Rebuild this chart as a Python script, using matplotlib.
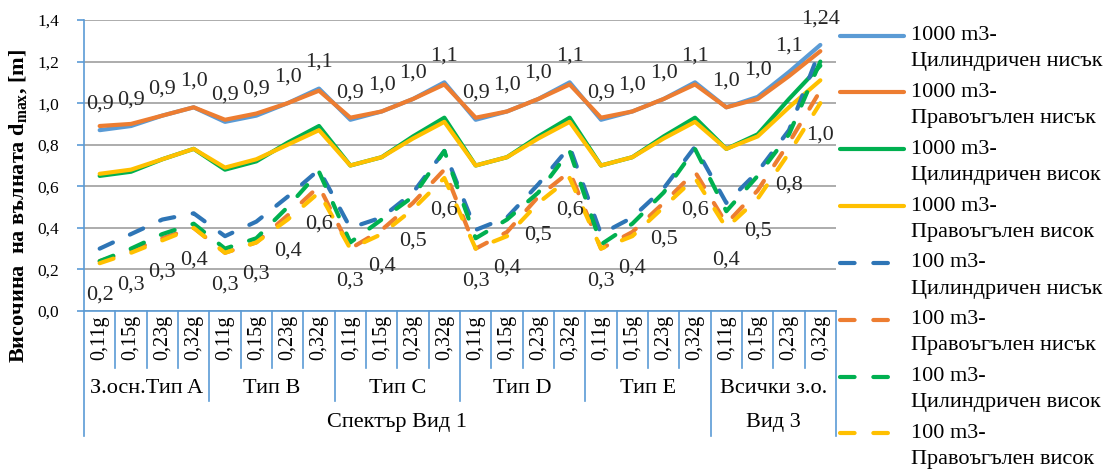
import numpy as np
import matplotlib
matplotlib.use("Agg")
import matplotlib.pyplot as plt
from matplotlib.lines import Line2D
from matplotlib.legend_handler import HandlerLine2D
from matplotlib.transforms import blended_transform_factory

plt.rcParams['font.family'] = ['Liberation Serif', 'DejaVu Serif']
plt.rcParams['mathtext.fontset'] = 'custom'
plt.rcParams['mathtext.rm'] = 'Liberation Serif'
plt.rcParams['mathtext.bf'] = 'Liberation Serif:bold'

# categories
pga = ['0,11g', '0,15g', '0,23g', '0,32g']
groups = ['З.осн.Тип A', 'Тип B', 'Тип C', 'Тип D', 'Тип E', 'Всички з.о.']
spectra = ['Спектър Вид 1', 'Вид 3']
spectra_groups = [5, 1]

# series
cyl_low_1000 = [0.87, 0.89, 0.94, 0.98, 0.91, 0.94, 1.00, 1.07, 0.92, 0.96, 1.02, 1.10,
                0.92, 0.96, 1.02, 1.10, 0.92, 0.96, 1.02, 1.10, 0.98, 1.03, 1.15, 1.28]
rect_low_1000 = [0.89, 0.90, 0.94, 0.98, 0.92, 0.95, 1.00, 1.06, 0.93, 0.96, 1.02, 1.09,
                 0.93, 0.96, 1.02, 1.09, 0.93, 0.96, 1.02, 1.09, 0.98, 1.02, 1.13, 1.25]
cyl_high_1000 = [0.65, 0.67, 0.73, 0.78, 0.68, 0.72, 0.81, 0.89, 0.70, 0.74, 0.84, 0.93,
                 0.70, 0.74, 0.84, 0.93, 0.70, 0.74, 0.84, 0.93, 0.78, 0.85, 1.02, 1.18]
rect_high_1000 = [0.66, 0.68, 0.73, 0.78, 0.69, 0.73, 0.80, 0.87, 0.70, 0.74, 0.83, 0.91,
                  0.70, 0.74, 0.83, 0.91, 0.70, 0.74, 0.83, 0.91, 0.78, 0.84, 0.98, 1.11]
cyl_low_100 = [0.30, 0.37, 0.44, 0.47, 0.36, 0.43, 0.55, 0.68, 0.40, 0.45, 0.57, 0.77,
               0.39, 0.45, 0.61, 0.79, 0.37, 0.45, 0.59, 0.79, 0.52, 0.67, 0.87, 1.26]
rect_low_100 = [0.24, 0.29, 0.35, 0.40, 0.28, 0.33, 0.46, 0.60, 0.30, 0.39, 0.52, 0.68,
                0.30, 0.38, 0.55, 0.67, 0.30, 0.38, 0.52, 0.67, 0.42, 0.58, 0.81, 1.06]
cyl_high_100 = [0.24, 0.30, 0.37, 0.42, 0.30, 0.35, 0.50, 0.67, 0.33, 0.44, 0.55, 0.77,
                0.35, 0.44, 0.57, 0.77, 0.32, 0.42, 0.57, 0.78, 0.48, 0.65, 0.85, 1.20]
rect_high_100 = [0.23, 0.28, 0.34, 0.40, 0.28, 0.33, 0.44, 0.57, 0.30, 0.37, 0.49, 0.64,
                 0.30, 0.36, 0.52, 0.64, 0.30, 0.36, 0.50, 0.64, 0.40, 0.54, 0.76, 1.00]

labels_top = ['0,9', '0,9', '0,9', '1,0', '0,9', '0,9', '1,0', '1,1', '0,9', '1,0', '1,0', '1,1',
              '0,9', '1,0', '1,0', '1,1', '0,9', '1,0', '1,0', '1,1', '1,0', '1,0', '1,1', '1,24']
labels_bottom = ['0,2', '0,3', '0,3', '0,4', '0,3', '0,3', '0,4', '0,6', '0,3', '0,4', '0,5', '0,6',
                 '0,3', '0,4', '0,5', '0,6', '0,3', '0,4', '0,5', '0,6', '0,4', '0,5', '0,8', '1,0']

series_names = ['1000 m3-\nЦилиндричен нисък', '1000 m3-\nПравоъгълен нисък',
                '1000 m3-\nЦилиндричен висок', '1000 m3-\nПравоъгълен висок',
                '100 m3-\nЦилиндричен нисък', '100 m3-\nПравоъгълен нисък',
                '100 m3-\nЦилиндричен висок', '100 m3-\nПравоъгълен висок']
series = [cyl_low_1000, rect_low_1000, cyl_high_1000, rect_high_1000,
          cyl_low_100, rect_low_100, cyl_high_100, rect_high_100]
colors = ['#5B9BD5', '#ED7D31', '#00B050', '#FFC000',
          '#2E75B6', '#ED7D31', '#00B050', '#FFC000']
axis_blue = '#5B9BD5'

x_labels = pga * len(groups)
x = np.arange(len(x_labels))

fig = plt.figure(figsize=(11.1, 4.7), dpi=100)
ax = fig.add_axes([84 / 1110, 1 - 311 / 470, 752 / 1110, 291 / 470])

lines = []
for i, (vals, col, name) in enumerate(zip(series, colors, series_names)):
    if i < 4:
        ln, = ax.plot(x, vals, color=col, lw=3, solid_capstyle='round',
                      solid_joinstyle='round', label=name, zorder=3)
    else:
        ln, = ax.plot(x, vals, color=col, lw=3, dashes=(3.5, 4.5),
                      dash_capstyle='round', label=name, zorder=3)
    lines.append(ln)

# data labels
for xi, v, t in zip(x, cyl_low_1000, labels_top):
    ax.annotate(t, (xi, v), xytext=(0, 19), textcoords='offset points',
                ha='center', va='center', fontsize=16, color='#262626')
for xi, v, t in zip(x, rect_high_100, labels_bottom):
    ax.annotate(t, (xi, v), xytext=(0, -23), textcoords='offset points',
                ha='center', va='center', fontsize=16, color='#262626')

ax.set_xlim(-0.5, len(x) - 0.5)
ax.set_ylim(0, 1.4)
yt = np.arange(0, 1.41, 0.2)
ax.set_yticks(yt)
ax.set_yticklabels([f'{v:.1f}'.replace('.', ',') for v in yt], fontsize=12.5)
ax.set_xticks(x)
ax.set_xticklabels(x_labels, rotation=90, fontsize=14.5, va='top')
ax.tick_params(axis='x', length=0, pad=3)
ax.tick_params(axis='y', direction='out', length=5, color=axis_blue, width=1.2,
               pad=13)
ax.yaxis.grid(True, color='#A6A6A6', lw=1.3)
ax.set_axisbelow(True)
for s in ['top', 'right']:
    ax.spines[s].set_visible(False)
for s in ['left', 'bottom']:
    ax.spines[s].set_color(axis_blue)
    ax.spines[s].set_linewidth(1.2)

# multi level category axis
trans = blended_transform_factory(ax.transData, ax.transAxes)
bounds = np.cumsum([0] + spectra_groups) * 4
for k in range(len(x) + 1):
    if k in bounds:
        depth = -0.43
    elif k % 4 == 0:
        depth = -0.31
    else:
        depth = -0.196
    ax.plot([k - 0.5, k - 0.5], [0, depth], transform=trans, clip_on=False,
            color=axis_blue, lw=1.2)
for g, name in enumerate(groups):
    ax.text(g * 4 + 1.5, -0.265, name, transform=trans, ha='center', va='center',
            fontsize=16)
for j, name in enumerate(spectra):
    ax.text((bounds[j] + bounds[j + 1]) / 2 - 0.5, -0.383, name, transform=trans,
            ha='center', va='center', fontsize=16)

ax.set_ylabel(r'Височина  на вълната $\mathbf{d_{max}}$, [m]', fontsize=16,
              fontweight='bold')
ax.yaxis.set_label_coords(-0.073, 0.36)


class UpHandler(HandlerLine2D):
    def create_artists(self, legend, orig_handle, xdescent, ydescent, width,
                       height, fontsize, trans):
        arts = super().create_artists(legend, orig_handle, xdescent, ydescent,
                                      width, height, fontsize, trans)
        for a in arts:
            a.set_ydata(np.asarray(a.get_ydata()) + 0.55 * fontsize)
        return arts


leg = fig.legend(lines, series_names, loc='upper left',
                 bbox_to_anchor=(840 / 1110, 1 - 26 / 470), frameon=False,
                 fontsize=16, handlelength=2.9, handletextpad=0.3, labelspacing=0.52,
                 borderpad=0, borderaxespad=0,
                 handler_map={Line2D: UpHandler()})
for t in leg.get_texts():
    t.set_linespacing(1.52)

fig.savefig('out.png', dpi=100)
